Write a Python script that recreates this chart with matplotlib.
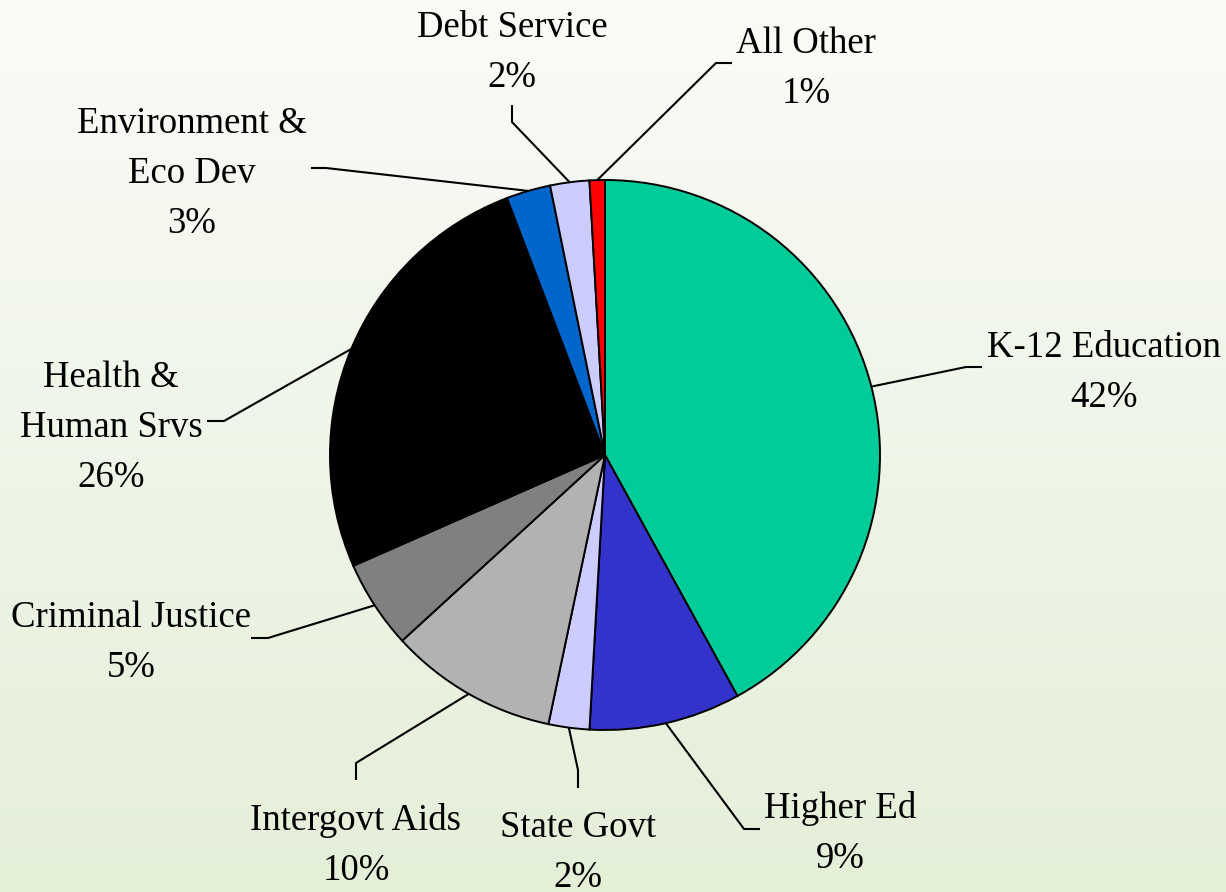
import numpy as np
import matplotlib
matplotlib.use("Agg")
import matplotlib.pyplot as plt

# ---- data ----
categories = ["K-12 Education", "Higher Ed", "State Govt", "Intergovt Aids",
              "Criminal Justice", "Health &\nHuman Srvs", "Environment &\nEco Dev",
              "Debt Service", "All Other"]
shares = [42.0, 8.9, 2.4, 9.9, 5.2, 25.8, 2.6, 2.3, 0.9]
pct_labels = ["42%", "9%", "2%", "10%", "5%", "26%", "3%", "2%", "1%"]
colors = ["#00CC99", "#3333CC", "#CCCCFF", "#B2B2B2", "#808080",
          "#000000", "#0066CC", "#CCCCFF", "#FF0000"]

W, H = 1226, 892
fig = plt.figure(figsize=(W / 100, H / 100), dpi=100)

# background gradient
bg = fig.add_axes([0, 0, 1, 1])
top = np.array([250, 251, 247]) / 255
bot = np.array([228, 239, 216]) / 255
t = np.linspace(0, 1, 256)[:, None]
grad = (top[None, :] * (1 - t) + bot[None, :] * t)[:, None, :]
bg.imshow(grad, aspect="auto", extent=[0, 1, 0, 1], origin="upper")
bg.set_axis_off()

ax = fig.add_axes([0, 0, 1, 1])
ax.set_xlim(0, W)
ax.set_ylim(0, H)
ax.set_axis_off()
ax.patch.set_alpha(0)

cx, cy, R = 605, H - 455, 275
wedges, _ = ax.pie(shares, colors=colors, startangle=90, counterclock=False,
                   center=(cx, cy), radius=R,
                   wedgeprops=dict(edgecolor="black", linewidth=1.4))
ax.set_xlim(0, W)
ax.set_ylim(0, H)
ax.set_aspect("auto")

font = dict(family="Liberation Serif", fontsize=26.5, color="black")

# layout: (elbow1, elbow2 in pixel coords (y down)), text center x, first baseline y
layout = [
    ((982, 367), (966, 367), 1104, 357),   # K-12
    ((760, 829), (744, 829), 840, 818),    # Higher Ed
    ((578, 788), (578, 770), 578, 837),    # State Govt
    ((356, 780), (356, 763), 356, 830),    # Intergovt
    ((251, 638), (268, 638), 131, 627),    # Criminal Justice
    ((207, 421), (224, 421), 111, 387),    # Health
    ((311, 168), (326, 168), 192, 133),    # Env
    ((512, 105), (512, 122), 512, 37),     # Debt
    ((732, 63), (716, 63), 806, 53),       # All Other
]
line_gap = 50

for w, cat, pct, (e1, e2, tx, ty) in zip(wedges, categories, pct_labels, layout):
    mid = np.deg2rad((w.theta1 + w.theta2) / 2)
    ax_pt = (cx + R * np.cos(mid), cy + R * np.sin(mid))
    xs = [e1[0], e2[0], ax_pt[0]]
    ys = [H - e1[1], H - e2[1], ax_pt[1]]
    ax.plot(xs, ys, color="black", lw=1.5, solid_capstyle="butt", zorder=5)
    lines = cat.split("\n") + [pct]
    for i, s in enumerate(lines):
        ax.text(tx, H - (ty + i * line_gap), s, ha="center", va="baseline", **font)

fig.savefig("out.png", dpi=100)
